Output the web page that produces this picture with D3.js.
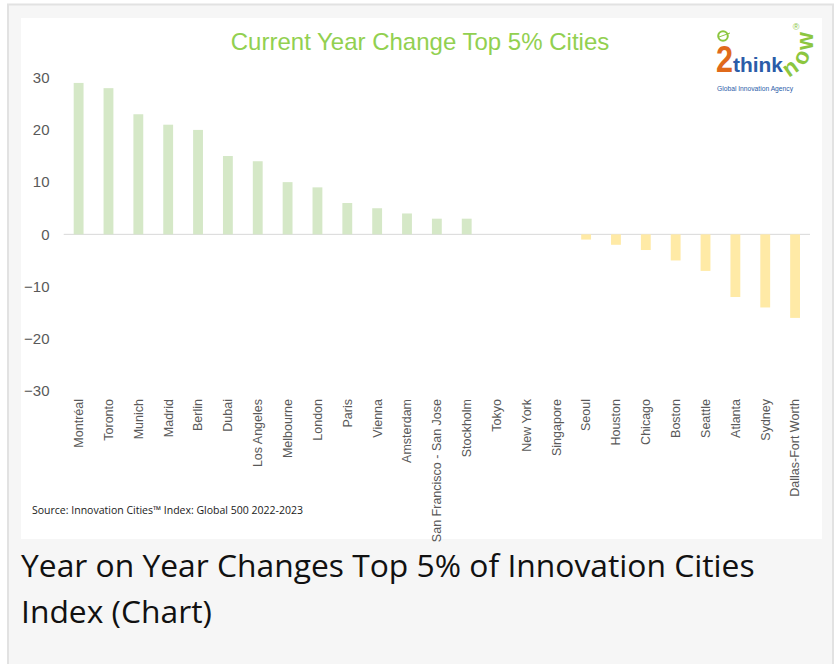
<!DOCTYPE html>
<html>
<head>
<meta charset="utf-8">
<script src="https://cdn.jsdelivr.net/npm/d3@7"></script>
<style>
  body { margin: 0; background: #fff; }
  svg { display: block; }
</style>
</head>
<body>
<div id="chart"></div>
<script>
// data
const cities = ["Montréal", "Toronto", "Munich", "Madrid", "Berlin", "Dubai", "Los Angeles",
  "Melbourne", "London", "Paris", "Vienna", "Amsterdam", "San Francisco - San Jose", "Stockholm",
  "Tokyo", "New York", "Singapore", "Seoul", "Houston", "Chicago", "Boston", "Seattle",
  "Atlanta", "Sydney", "Dallas-Fort Worth"];
const changes = [29, 28, 23, 21, 20, 15, 14, 10, 9, 6, 5, 4, 3, 3, 0, 0, 0, -1, -2, -3, -5, -7, -12, -14, -16];
const yTicks = [30, 20, 10, 0, -10, -20, -30];

const W = 836, H = 664;

const svg = d3.select("#chart")
  .append("svg")
    .attr("width", W)
    .attr("height", H);

// page frame + white picture area
svg.append("rect")
  .attr("x", 8).attr("y", 4.5)
  .attr("width", 825).attr("height", 700)
  .attr("fill", "#f6f6f6")
  .attr("stroke", "#e2e2e2")
  .attr("stroke-width", 2);
svg.append("rect")
  .attr("x", 21).attr("y", 18)
  .attr("width", 801).attr("height", 521)
  .attr("fill", "#fff");

// scales
const x = d3.scaleBand()
  .domain(cities)
  .range([63.7, 810])
  .paddingInner(0.67)
  .paddingOuter(0.335);

const y = d3.scaleLinear()
  .domain([-30, 30])
  .range([391, 77.7]);

// zero line
svg.append("line")
  .attr("x1", 63.7).attr("x2", 810)
  .attr("y1", y(0)).attr("y2", y(0))
  .attr("stroke", "#d9d9d9")
  .attr("stroke-width", 1);

// bars
svg.append("g")
  .selectAll("rect")
  .data(cities.map((c, i) => ({city: c, value: changes[i]})))
  .join("rect")
    .attr("x", d => x(d.city))
    .attr("width", x.bandwidth())
    .attr("y", d => y(Math.max(0, d.value)))
    .attr("height", d => Math.abs(y(d.value) - y(0)))
    .attr("fill", d => d.value >= 0 ? "#d5e8c7" : "#ffeaa6");

// y axis (labels only, like excel)
const yAxis = d3.axisLeft(y)
  .tickValues(yTicks)
  .tickSize(0)
  .tickPadding(0);
const gy = svg.append("g")
  .attr("transform", "translate(49.5,0)")
  .call(yAxis);
gy.select(".domain").remove();
gy.selectAll("text")
  .attr("fill", "#595959")
  .style("font-family", "'Liberation Sans', Arial, sans-serif")
  .style("font-size", "15px");

// x labels, rotated
const xAxis = d3.axisBottom(x).tickSize(0).tickPadding(0);
const gx = svg.append("g")
  .attr("transform", "translate(0,399)")
  .call(xAxis);
gx.select(".domain").remove();
gx.selectAll("text")
  .attr("transform", "rotate(-90)")
  .attr("text-anchor", "end")
  .attr("x", 0)
  .attr("y", 0)
  .attr("dy", "0.35em")
  .attr("fill", "#595959")
  .style("font-family", "'Liberation Sans', Arial, sans-serif")
  .style("font-size", "12.5px");

// chart title
svg.append("text")
  .attr("x", 420).attr("y", 50)
  .attr("text-anchor", "middle")
  .attr("fill", "#92d050")
  .style("font-family", "'Liberation Sans', Arial, sans-serif")
  .style("font-size", "24px")
  .text("Current Year Change Top 5% Cities");

// logo
const logo = svg.append("g");
logo.append("circle")
  .attr("cx", 723).attr("cy", 36).attr("r", 4.8)
  .attr("fill", "none").attr("stroke", "#8cc63f").attr("stroke-width", 2);
logo.append("line")
  .attr("x1", 719).attr("y1", 37).attr("x2", 730).attr("y2", 33)
  .attr("stroke", "#8cc63f").attr("stroke-width", 1);
logo.append("text")
  .attr("x", 716).attr("y", 72)
  .attr("fill", "#e06a1b")
  .attr("textLength", 17).attr("lengthAdjust", "spacingAndGlyphs")
  .style("font-family", "'Liberation Sans', Arial, sans-serif")
  .style("font-weight", "bold")
  .style("font-size", "37px")
  .text("2");
logo.append("text")
  .attr("x", 733).attr("y", 72)
  .attr("fill", "#2b5ca8")
  .attr("textLength", 50).attr("lengthAdjust", "spacingAndGlyphs")
  .style("font-family", "'Liberation Sans', Arial, sans-serif")
  .style("font-weight", "bold")
  .style("font-size", "21px")
  .text("think");
// "now" curls upwards
const now = [["n", 794.5, 74, -35], ["o", 808, 60.5, -65], ["w", 812.5, 41, -90]];
logo.selectAll(".now")
  .data(now)
  .join("text")
    .attr("class", "now")
    .attr("transform", d => `translate(${d[1]},${d[2]}) rotate(${d[3]})`)
    .attr("text-anchor", "middle")
    .attr("fill", "#8cc63f")
    .style("font-family", "'Liberation Sans', Arial, sans-serif")
    .style("font-weight", "bold")
    .style("font-size", "23px")
    .text(d => d[0]);
logo.append("text")
  .attr("x", 796).attr("y", 29.5)
  .attr("text-anchor", "middle")
  .attr("fill", "#8cc63f")
  .style("font-family", "'Liberation Sans', Arial, sans-serif")
  .style("font-size", "9px")
  .text("®");
logo.append("text")
  .attr("x", 717).attr("y", 91)
  .attr("fill", "#2b5ca8")
  .attr("textLength", 76).attr("lengthAdjust", "spacingAndGlyphs")
  .style("font-family", "'Liberation Sans', Arial, sans-serif")
  .style("font-size", "7.5px")
  .text("Global Innovation Agency");

// source note
svg.append("text")
  .attr("x", 32).attr("y", 514)
  .attr("fill", "#1a1a1a")
  .attr("textLength", 271).attr("lengthAdjust", "spacingAndGlyphs")
  .style("font-family", "'Open Sans', sans-serif")
  .style("font-size", "11px")
  .text("Source: Innovation Cities™ Index: Global 500 2022-2023");

// caption below the picture
const caption = ["Year on Year Changes Top 5% of Innovation Cities", "Index (Chart)"];
svg.append("g")
  .selectAll("text")
  .data(caption)
  .join("text")
    .attr("x", 21)
    .attr("y", (d, i) => 577 + i * 46)
    .attr("fill", "#111")
    .style("font-family", "'Open Sans', sans-serif")
    .style("font-size", "31.8px")
    .text(d => d);
</script>
</body>
</html>
